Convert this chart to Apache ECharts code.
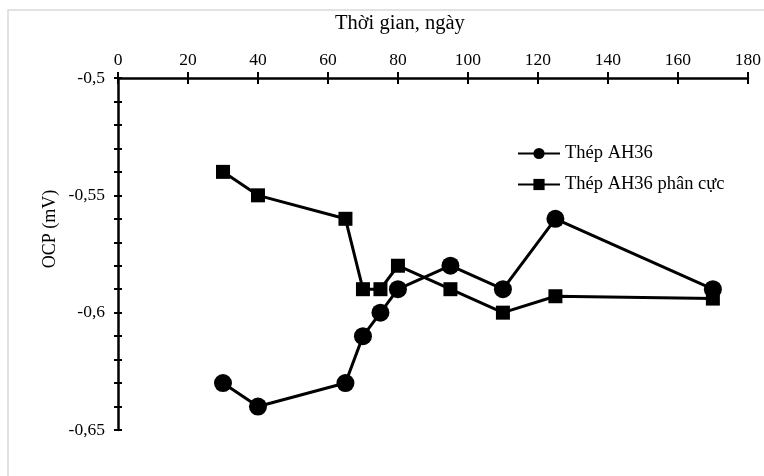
<!DOCTYPE html>
<html>
<head>
<meta charset="utf-8">
<script src="https://cdn.jsdelivr.net/npm/echarts@6/dist/echarts.min.js"></script>
<style>
html,body{margin:0;padding:0;background:#fff;}
#c{width:764px;height:476px;}
</style>
</head>
<body>
<div id="c"></div>
<script>
const days = [30, 40, 65, 70, 75, 80, 95, 110, 125, 170];
const ocpAH36 = [-0.63, -0.64, -0.63, -0.61, -0.60, -0.59, -0.58, -0.59, -0.56, -0.59];
const ocpAH36Polar = [-0.54, -0.55, -0.56, -0.59, -0.59, -0.58, -0.59, -0.60, -0.593, -0.594];
const seriesNames = ['Thép AH36', 'Thép AH36 phân cực'];
const xTitle = 'Thời gian, ngày';
const yTitle = 'OCP (mV)';

const FONT = '"Liberation Serif", "Times New Roman", serif';
const chart = echarts.init(document.getElementById('c'), null, {renderer: 'canvas'});

function pairs(xs, ys) { return xs.map((x, i) => [x, ys[i]]); }

const axisLine = {show: true, lineStyle: {color: '#000', width: 2.5}};
const yFmt = v => String(Math.round(v * 1000) / 1000).replace('.', ',');

chart.setOption({
  backgroundColor: '#fff',
  animation: false,
  graphic: [
    {type: 'rect', shape: {x: 8, y: 10, width: 800, height: 500}, style: {fill: 'none', stroke: '#d9d9d9', lineWidth: 1.5}, silent: true},
    {type: 'text', left: 335, top: 13, style: {text: xTitle, font: '20.5px ' + FONT, fill: '#000'}},
    {type: 'text', x: 50, y: 229, rotation: Math.PI / 2, style: {text: yTitle, font: '18px ' + FONT, fill: '#000', align: 'center', verticalAlign: 'middle'}}
  ],
  grid: {left: 118, right: 16, top: 78, bottom: 46, containLabel: false},
  legend: {
    orient: 'vertical', left: 517, top: 144, padding: 0, itemWidth: 42, itemHeight: 14, itemGap: 12,
    textStyle: {fontFamily: FONT, fontSize: 18.5, color: '#000'},
    data: seriesNames
  },
  xAxis: [
    {type: 'value', position: 'top', min: 0, max: 180, interval: 20,
     axisLine: axisLine, splitLine: {show: false},
     axisTick: {show: true, length: 6, lineStyle: {color: '#000', width: 2}},
     axisLabel: {fontFamily: FONT, fontSize: 17.5, color: '#000', margin: 9}},
    {type: 'value', position: 'top', min: 0, max: 180, interval: 20,
     axisLine: {show: false}, splitLine: {show: false}, axisLabel: {show: false},
     axisTick: {show: true, inside: true, length: 6, lineStyle: {color: '#000', width: 2}}}
  ],
  yAxis: [
    {type: 'value', min: -0.65, max: -0.5, interval: 0.05,
     axisLine: axisLine, splitLine: {show: false},
     axisTick: {show: true, length: 4, lineStyle: {color: '#000', width: 2}},
     minorTick: {show: true, splitNumber: 5, length: 4, lineStyle: {color: '#000', width: 2}},
     axisLabel: {fontFamily: FONT, fontSize: 17.5, color: '#000', margin: 13, formatter: yFmt}},
    {type: 'value', position: 'left', min: -0.65, max: -0.5, interval: 0.05,
     axisLine: {show: false}, splitLine: {show: false}, axisLabel: {show: false},
     axisTick: {show: true, inside: true, length: 4, lineStyle: {color: '#000', width: 2}},
     minorTick: {show: true, splitNumber: 5, length: 4, lineStyle: {color: '#000', width: 2}}}
  ],
  series: [
    {name: seriesNames[0], type: 'line', xAxisIndex: 0, yAxisIndex: 0, data: pairs(days, ocpAH36),
     symbol: 'circle', symbolSize: 18, showAllSymbol: true,
     lineStyle: {color: '#000', width: 3}, itemStyle: {color: '#000'}},
    {name: seriesNames[1], type: 'line', xAxisIndex: 0, yAxisIndex: 0, data: pairs(days, ocpAH36Polar),
     symbol: 'rect', symbolSize: 14, showAllSymbol: true,
     lineStyle: {color: '#000', width: 3}, itemStyle: {color: '#000'}}
  ]
});
</script>
</body>
</html>
